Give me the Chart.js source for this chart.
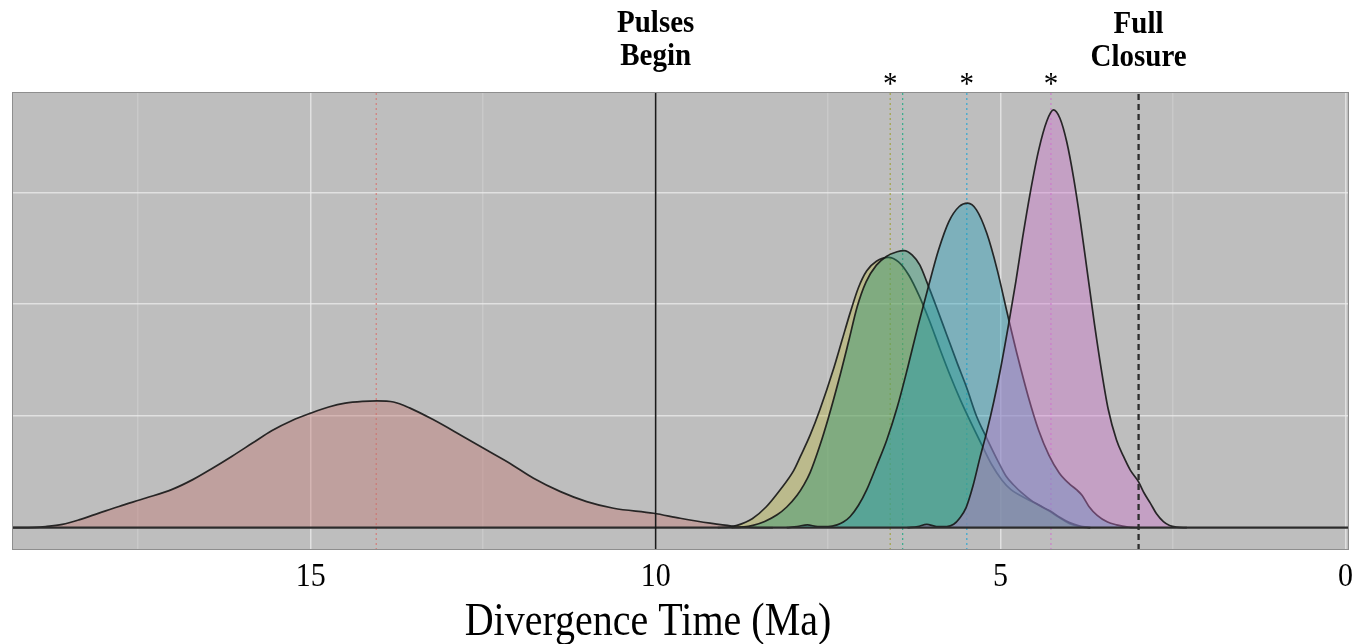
<!DOCTYPE html>
<html>
<head>
<meta charset="utf-8">
<script src="https://cdn.jsdelivr.net/npm/chart.js@4.4.1/dist/chart.umd.min.js"></script>
<style>
  html, body { margin: 0; padding: 0; background: #ffffff; }
  #wrap { width: 1356px; height: 644px; }
</style>
</head>
<body>
<div id="wrap"><canvas id="chart" width="1356" height="644"></canvas></div>
<script>
// Divergence-time posterior densities, [age (Ma), density] pairs, oldest first.
const densityRed = [
  [19.33, 0], [19.0, 0.0005], [18.84, 0.002], [18.6, 0.006], [18.36, 0.014], [18.07, 0.026],
  [17.78, 0.038], [17.39, 0.053], [17.0, 0.069], [16.71, 0.086], [16.43, 0.106], [16.14, 0.128],
  [15.85, 0.151], [15.56, 0.174], [15.27, 0.192], [15.0, 0.205], [14.74, 0.216], [14.5, 0.223],
  [14.25, 0.2262], [14.04, 0.227], [13.8, 0.225], [13.56, 0.214], [13.22, 0.193], [12.83, 0.166],
  [12.45, 0.139], [12.11, 0.115], [11.77, 0.0885], [11.38, 0.0645], [11.0, 0.0466], [10.61, 0.0347],
  [10.03, 0.0258], [9.645, 0.0168], [9.21, 0.008], [8.9, 0.003], [8.6, 0.0005], [8.3, 0]
];
const densityOlive = [
  [9.1, 0], [8.95, 0.001], [8.82, 0.004], [8.6, 0.016], [8.4, 0.037], [8.2, 0.067], [8.0, 0.102],
  [7.9, 0.128], [7.76, 0.166], [7.62, 0.211], [7.42, 0.285], [7.3, 0.335], [7.18, 0.385], [7.06, 0.43],
  [6.94, 0.46], [6.8, 0.477], [6.63, 0.484], [6.48, 0.476], [6.33, 0.452], [6.18, 0.415], [6.03, 0.37],
  [5.88, 0.32], [5.73, 0.272], [5.58, 0.228], [5.43, 0.188], [5.28, 0.15], [5.13, 0.113], [4.98, 0.085],
  [4.85, 0.068], [4.72, 0.058], [4.6, 0.05], [4.45, 0.041], [4.3, 0.03], [4.15, 0.018], [4.0, 0.007],
  [3.85, 0.002], [3.7, 0]
];
const densityGreen = [
  [8.9, 0], [8.75, 0.001], [8.59, 0.004], [8.42, 0.011], [8.24, 0.023], [8.1, 0.037], [7.95, 0.058],
  [7.85, 0.077], [7.76, 0.099], [7.62, 0.147], [7.5, 0.195], [7.35, 0.262], [7.2, 0.335], [7.08, 0.395],
  [6.95, 0.44], [6.8, 0.47], [6.65, 0.486], [6.5, 0.494], [6.4, 0.496], [6.28, 0.488], [6.17, 0.47],
  [6.07, 0.44], [5.93, 0.395], [5.78, 0.345], [5.63, 0.295], [5.49, 0.25], [5.35, 0.2], [5.2, 0.16],
  [5.05, 0.122], [4.92, 0.092], [4.8, 0.075], [4.7, 0.063], [4.6, 0.053], [4.5, 0.044], [4.4, 0.037],
  [4.28, 0.03], [4.15, 0.019], [4.0, 0.009], [3.85, 0.003], [3.7, 0]
];
const densityBlue = [
  [8.1, 0], [7.95, 0.002], [7.8, 0.005], [7.65, 0.002], [7.5, 0.002], [7.37, 0.005], [7.28, 0.01],
  [7.18, 0.02], [7.06, 0.04], [6.94, 0.068], [6.8, 0.11], [6.65, 0.157], [6.5, 0.215], [6.35, 0.285],
  [6.2, 0.36], [6.05, 0.43], [5.9, 0.497], [5.75, 0.548], [5.6, 0.575], [5.477, 0.581], [5.35, 0.569],
  [5.2, 0.527], [5.05, 0.462], [4.9, 0.382], [4.75, 0.305], [4.6, 0.235], [4.45, 0.175], [4.3, 0.13],
  [4.15, 0.098], [4.0, 0.078], [3.9, 0.068], [3.82, 0.058], [3.72, 0.038], [3.6, 0.022], [3.45, 0.01],
  [3.32, 0.005], [3.15, 0.001], [3.0, 0]
];
const densityMagenta = [
  [6.35, 0], [6.2, 0.002], [6.07, 0.006], [5.93, 0.002], [5.78, 0.002], [5.68, 0.006], [5.6, 0.016],
  [5.5, 0.036], [5.4, 0.075], [5.3, 0.125], [5.2, 0.172], [5.1, 0.225], [5.0, 0.285], [4.89, 0.36],
  [4.78, 0.44], [4.68, 0.52], [4.57, 0.6], [4.45, 0.675], [4.33, 0.728], [4.235, 0.748], [4.14, 0.733],
  [4.04, 0.69], [3.94, 0.625], [3.84, 0.545], [3.74, 0.455], [3.64, 0.365], [3.54, 0.283], [3.44, 0.212],
  [3.32, 0.157], [3.22, 0.128], [3.12, 0.103], [3.0, 0.082], [2.92, 0.062], [2.83, 0.044], [2.74, 0.025],
  [2.64, 0.011], [2.55, 0.004], [2.45, 0.001], [2.3, 0]
];

// Mean age of each clade (dotted guides), in the same order as the densities.
const meanAges = [14.05, 6.6, 6.42, 5.49, 4.27];
// Event markers: start of the pulses and full closure.
const pulsesAge = 10;
const closureAge = 3.0;
// Clades flagged with an asterisk above the panel.
const starAges = [6.6, 5.49, 4.27];

// Axis settings and labels.
const xTickValues = [15, 10, 5, 0];
const xTickLabels = ['15', '10', '5', '0'];
const xGridValues = [0, 2.5, 5, 7.5, 10, 12.5, 15, 17.5];
const yGridValues = [0, 0.2, 0.4, 0.6];
const X_MIN = -0.05, X_MAX = 19.33;
const Y_MIN = -0.04, Y_MAX = 0.78;
const xTitle = 'Divergence Time (Ma)';

const fills = [
  'rgba(193,115,110,0.4)',
  'rgba(182,180,65,0.4)',
  'rgba(40,151,110,0.4)',
  'rgba(28,155,183,0.4)',
  'rgba(205,115,205,0.4)'
];
const meanColors = [
  'rgba(215,120,115,0.85)',
  'rgba(160,160,60,0.85)',
  'rgba(40,170,135,0.85)',
  'rgba(40,165,210,0.85)',
  'rgba(205,120,205,0.85)'
];
const densities = [densityRed, densityOlive, densityGreen, densityBlue, densityMagenta];

const toPoints = arr => arr.map(([x, y]) => ({ x, y }));
const vLine = (age, color, width, dash, order) => ({
  data: [{ x: age, y: Y_MIN }, { x: age, y: Y_MAX }],
  borderColor: color, borderWidth: width, borderDash: dash,
  pointRadius: 0, fill: false, tension: 0, order
});

const datasets = [
  ...meanAges.map((a, i) => vLine(a, meanColors[i], 1.3, [2, 3], 30)),
  ...densities.map((d, i) => ({
    data: toPoints(d),
    backgroundColor: fills[i],
    borderColor: 'rgba(22,22,22,0.9)',
    borderWidth: 1.7,
    borderJoinStyle: 'round',
    fill: 'origin',
    cubicInterpolationMode: 'monotone',
    pointRadius: 0,
    order: 20 - i
  })),
  {
    data: [{ x: X_MAX, y: 0 }, { x: X_MIN, y: 0 }],
    borderColor: '#2b2b2b', borderWidth: 2.4, pointRadius: 0, fill: false, tension: 0, order: 3
  },
  vLine(pulsesAge, '#1a1a1a', 1.6, [], 2),
  vLine(closureAge, '#2e2e2e', 2.3, [6, 4], 2)
];

// Panel background, frame and all the text around the plotting area.
const panelPlugin = {
  id: 'panel',
  beforeDraw(chart) {
    const { ctx, chartArea: a } = chart;
    ctx.save();
    ctx.fillStyle = '#ffffff';
    ctx.fillRect(0, 0, chart.width, chart.height);
    ctx.fillStyle = '#bebebe';
    ctx.fillRect(a.left, a.top, a.right - a.left, a.bottom - a.top);
    ctx.restore();
  },
  afterDatasetsDraw(chart) {
    const { ctx, chartArea: a } = chart;
    ctx.save();
    ctx.strokeStyle = '#8e8e8e';
    ctx.lineWidth = 1;
    ctx.strokeRect(a.left + 0.5, a.top + 0.5, a.right - a.left - 1, a.bottom - a.top - 1);
    ctx.restore();
  },
  afterDraw(chart) {
    const { ctx } = chart;
    const x = chart.scales.x;
    const serif = '"Liberation Serif", "Times New Roman", Times, serif';
    const text = (str, cx, baseY, font, sy) => {
      ctx.save();
      ctx.font = font;
      ctx.fillStyle = '#000000';
      ctx.textAlign = 'center';
      ctx.textBaseline = 'alphabetic';
      ctx.translate(cx, baseY);
      ctx.scale(1, sy);
      ctx.fillText(str, 0, 0);
      ctx.restore();
    };
    xTickValues.forEach((v, i) => text(xTickLabels[i], x.getPixelForValue(v), 586, '30px ' + serif, 1.12));
    text(xTitle, 648, 635, '40px ' + serif, 1.18);
    const px10 = x.getPixelForValue(pulsesAge);
    text('Pulses', px10, 32, 'bold 29px ' + serif, 1.1);
    text('Begin', px10, 64.5, 'bold 29px ' + serif, 1.1);
    const px3 = x.getPixelForValue(closureAge);
    text('Full', px3, 32.5, 'bold 29px ' + serif, 1.1);
    text('Closure', px3, 66, 'bold 29px ' + serif, 1.1);
    starAges.forEach(a => text('*', x.getPixelForValue(a), 94, '29px ' + serif, 1.1));
  }
};

new Chart(document.getElementById('chart'), {
  type: 'line',
  data: { datasets },
  options: {
    responsive: false,
    devicePixelRatio: 1,
    animation: false,
    events: [],
    layout: { autoPadding: false, padding: { left: 12, right: 7, top: 92, bottom: 94 } },
    plugins: { legend: { display: false }, tooltip: { enabled: false } },
    scales: {
      x: {
        type: 'linear', reverse: true, min: X_MIN, max: X_MAX,
        afterBuildTicks: s => { s.ticks = xGridValues.map(v => ({ value: v })); },
        ticks: { display: false },
        border: { display: false },
        grid: {
          drawTicks: false,
          lineWidth: 1.5,
          color: c => (c.tick && c.tick.value % 5 === 0) ? 'rgba(236,236,236,0.75)' : 'rgba(230,230,230,0.3)'
        }
      },
      y: {
        type: 'linear', min: Y_MIN, max: Y_MAX,
        afterBuildTicks: s => { s.ticks = yGridValues.map(v => ({ value: v })); },
        ticks: { display: false },
        border: { display: false },
        grid: { drawTicks: false, lineWidth: 1.5, color: 'rgba(236,236,236,0.75)' }
      }
    }
  },
  plugins: [panelPlugin]
});
</script>
</body>
</html>
